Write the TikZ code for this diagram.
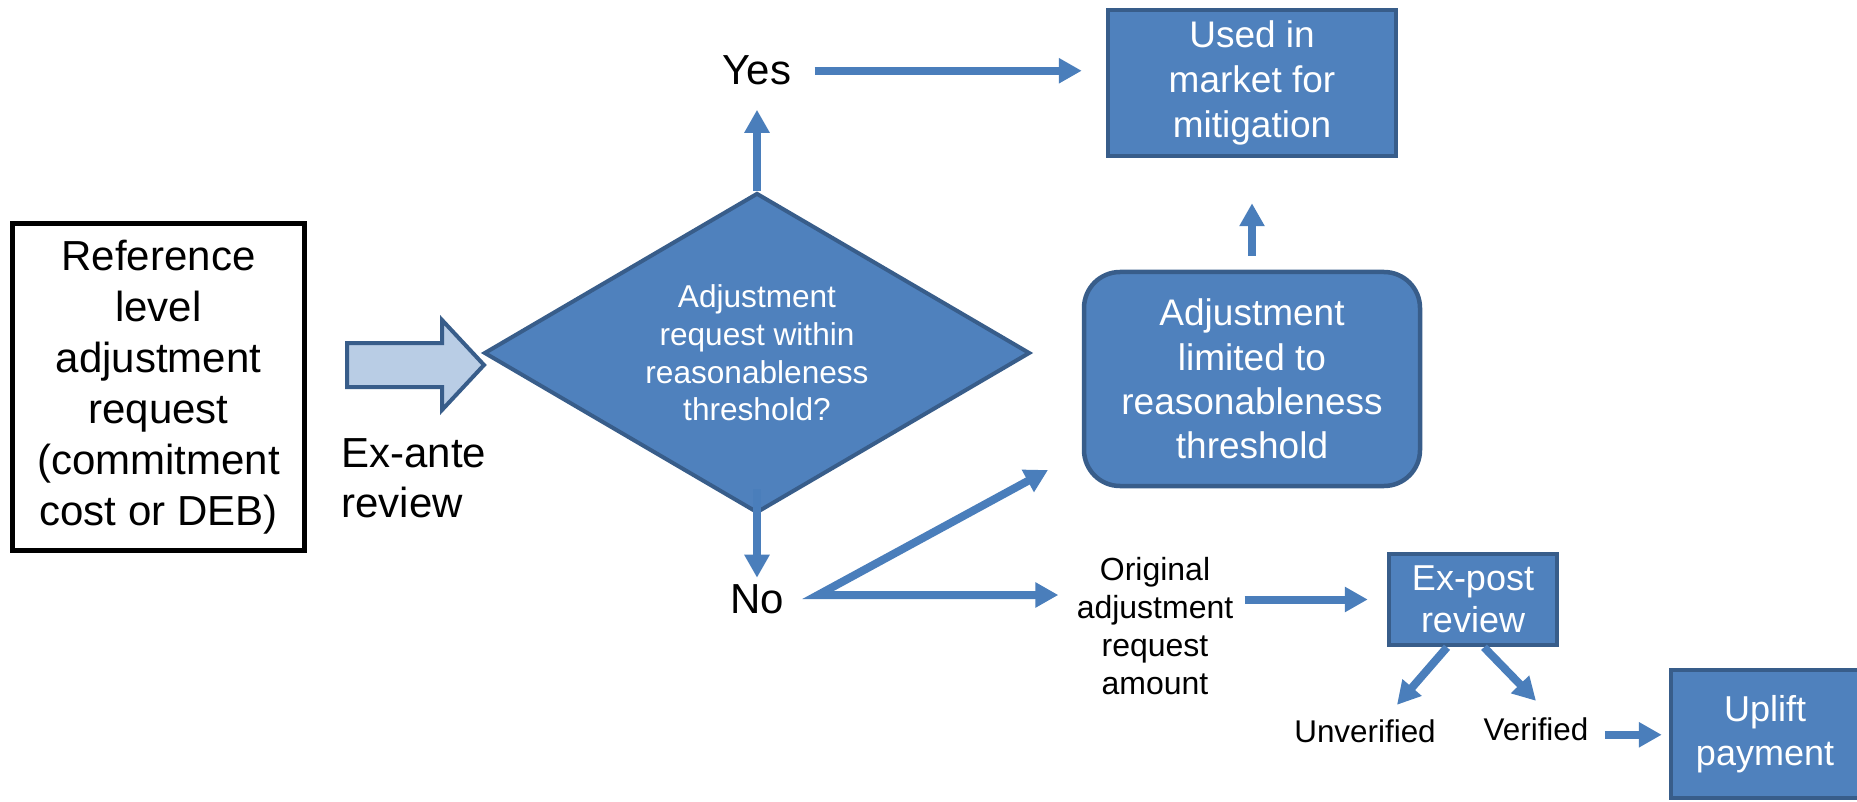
\documentclass[tikz,border=0pt]{standalone}
\usepackage{fontspec}
\setmainfont{Liberation Sans}
\usetikzlibrary{arrows.meta,shapes.geometric}
\definecolor{boxfill}{HTML}{4F81BD}
\definecolor{boxline}{HTML}{385D8A}
\definecolor{arrowblue}{HTML}{4A7EBB}
\definecolor{lightfill}{HTML}{B9CDE5}
\tikzset{
  bluebox/.style={draw=boxline, fill=boxfill, line width=2.25pt, text=white, align=center, inner sep=0pt},
  plain/.style={inner sep=0pt, align=center, text=black},
  arr/.style={draw=arrowblue, line width=4pt, ->},
}
\begin{document}
\begin{tikzpicture}[x=0.5pt,y=-0.5pt,>={Triangle[length=11.5pt,width=12pt]}]
\useasboundingbox (0,0) rectangle (1857,802);
\clip (0,0) rectangle (1857,802);

% left request box
\node[plain, draw=black, line width=2.5pt, minimum width=146pt, minimum height=163.5pt,
  font=\fontsize{21pt}{25.5pt}\selectfont] (req) at (158.5,387)
  {Reference\\level\\adjustment\\request\\(commitment\\cost or DEB)};

% block arrow
\draw[draw=boxline, fill=lightfill, line width=2pt, line join=miter]
  (347,343) -- (442,343) -- (442,320) -- (484,365) -- (442,410) -- (442,387) -- (347,387) -- cycle;

\node[plain, align=left, anchor=west, font=\fontsize{21pt}{25pt}\selectfont] (exante) at (341,478) {Ex-ante\\review};

% decision diamond
\node[diamond, shape aspect=1.7, minimum width=273pt, minimum height=160pt,
  draw=boxline, fill=boxfill, line width=2pt, text=white, align=center, inner sep=0pt,
  font=\fontsize{15.8pt}{18.9pt}\selectfont] (dia) at (757,353)
  {Adjustment\\request within\\reasonableness\\threshold?};

\node[plain, anchor=base, font=\fontsize{21pt}{25pt}\selectfont] (yes) at (757,85) {Yes};
\node[plain, anchor=base, font=\fontsize{21pt}{25pt}\selectfont] (no) at (757,613) {No};

\node[bluebox, minimum width=144pt, minimum height=73pt, font=\fontsize{18.5pt}{22.5pt}\selectfont]
  (used) at (1252,83) {Used in\\market for\\mitigation};

\node[bluebox, rounded corners=18pt, minimum width=168pt, minimum height=107pt,
  font=\fontsize{18.5pt}{22.2pt}\selectfont] (lim) at (1252,379)
  {Adjustment\\limited to\\reasonableness\\threshold};

\node[plain, font=\fontsize{16pt}{19pt}\selectfont] (orig) at (1155,626)
  {Original\\adjustment\\request\\amount};

\node[bluebox, minimum width=84pt, minimum height=45.5pt, font=\fontsize{18pt}{21pt}\selectfont]
  (ep) at (1473,599.5) {Ex-post\\review};

\node[plain, anchor=base, font=\fontsize{15.7pt}{19pt}\selectfont] (unv) at (1365,742) {Unverified};
\node[plain, anchor=base, font=\fontsize{15.7pt}{19pt}\selectfont] (ver) at (1536,740) {Verified};

\node[bluebox, minimum width=94pt, minimum height=64pt, font=\fontsize{18pt}{22pt}\selectfont]
  (up) at (1765,734) {Uplift\\payment};

% connectors
\draw[arr, shorten >=12pt] (dia.north) -- (dia.north |- yes.south);
\draw[arr, shorten <=11.5pt, shorten >=12pt] (yes.east) -- (yes.east -| used.west);
\draw[arr, shorten >=3pt] ([yshift=13pt]dia.south) -- (no.north);

\coordinate (fork) at (818,595);
\coordinate (limin) at (1048,470);
\draw[arr, <->, line join=miter, shorten >=9pt] (limin) -- (fork) -- (fork -| orig.west);

\draw[arr, shorten <=5.5pt, shorten >=9.5pt] (orig.east |- ep.west) -- (ep.west);
\draw[arr, shorten <=7pt, shorten >=22.5pt] (lim.north) -- (used.south);
\draw[arr] ([xshift=-13pt]ep.south) -- ([xshift=16pt,yshift=7pt]unv.north);
\draw[arr] ([xshift=5.5pt]ep.south) -- ([yshift=8pt]ver.north);
\draw[arr, shorten <=8pt, shorten >=3.5pt] ([yshift=-3pt]ver.east) -- ([yshift=-3pt]ver.east -| up.west);
\end{tikzpicture}
\end{document}
